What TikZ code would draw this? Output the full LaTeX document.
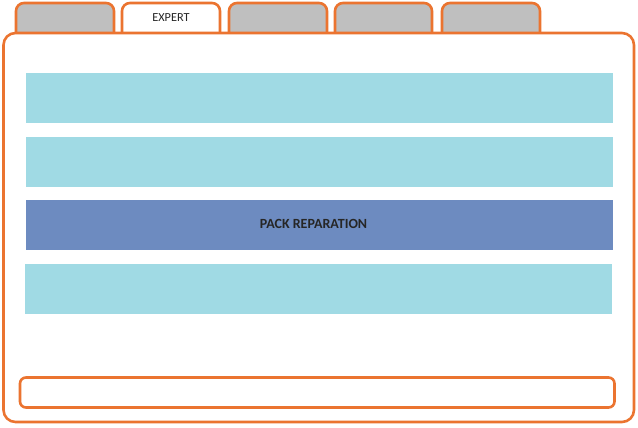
\documentclass[tikz,border=0pt]{standalone}
\usepackage{fontspec}
\setmainfont{Carlito}
\definecolor{orng}{HTML}{EB7430}
\definecolor{lcyan}{HTML}{A0DAE4}
\definecolor{dblue}{HTML}{6D8BC0}
\definecolor{tabgray}{HTML}{BFBFBF}
\begin{document}
\begin{tikzpicture}[x=1pt,y=-1pt,
  tabshape/.style={draw=orng,line width=2.6pt,rounded corners=8pt},
  bar/.style={fill=lcyan,draw=none},
  darkbar/.style={fill=dblue,draw=none},
  frame/.style={draw=orng,line width=2.6pt}]
\useasboundingbox (0,0) rectangle (638,428);
% tabs
\foreach \a/\b/\c in {16/114/tabgray,229/327/tabgray,335/432/tabgray,442/540/tabgray,122/220/white}{
  \path[tabshape,fill=\c] (\a,34) -- (\a,3) -- (\b,3) -- (\b,34);
}
\node[font=\fontsize{12.3}{14}\selectfont,text=black!85] (expert) at (171,17.5) {EXPERT};
% main frame
\draw[frame,fill=white,rounded corners=12pt] (3.5,33) rectangle (634,422);
% bars
\node[bar,minimum width=587pt,minimum height=50pt,inner sep=0pt,anchor=north west] (b1) at (26,73) {};
\node[bar,minimum width=587pt,minimum height=50pt,inner sep=0pt,anchor=north west] (b2) at (26,137) {};
\node[darkbar,minimum width=587pt,minimum height=50pt,inner sep=0pt,anchor=north west] (b3) at (26,200) {};
\node[font=\bfseries\fontsize{14}{16}\selectfont,text=black!85] (t3) at (313.5,224) {PACK REPARATION};
\node[bar,minimum width=587pt,minimum height=50pt,inner sep=0pt,anchor=north west] (b4) at (25,264) {};
% bottom box
\draw[frame,rounded corners=6pt] (20,377.5) rectangle (614.5,407.5);
\end{tikzpicture}
\end{document}
